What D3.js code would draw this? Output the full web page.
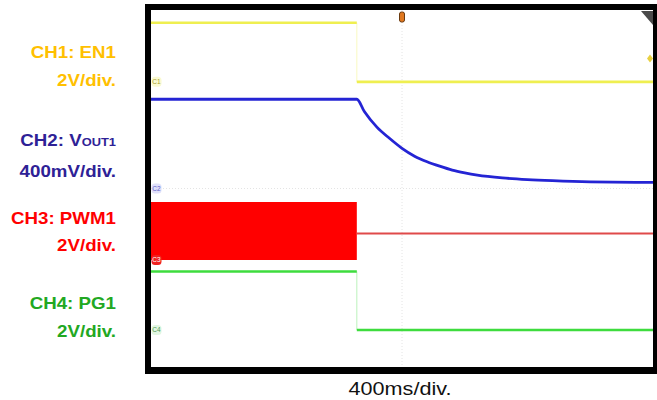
<!DOCTYPE html>
<html>
<head>
<meta charset="utf-8">
<script src="https://cdn.jsdelivr.net/npm/d3@7/dist/d3.min.js"></script>
<style>
  html, body { margin: 0; padding: 0; background: #fff; }
  svg { display: block; }
</style>
</head>
<body>
<svg id="scope" width="657" height="400"></svg>
<script>
// ---- Channel data (time in ms relative to trigger, voltages in V) ----
const en1Time  = [-2000, -360, -360, 2000];
const en1Volts = [2.65, 2.65, 0, 0];

const vout1Time  = [-2000, -360, -300, -200, -100, 0, 100, 200, 300, 400, 500, 600, 800, 1000, 1200, 1500, 2000];
const vout1Volts = [0.80, 0.80, 0.69, 0.55, 0.45, 0.36, 0.29, 0.24, 0.20, 0.165, 0.14, 0.12, 0.095, 0.08, 0.07, 0.06, 0.055];

// PWM1 switches while enabled (drawn as its low/high envelope), then idles mid-rail
const pwmBurstTime = [-2000, -360];
const pwmBurstLow  = [0, 0];
const pwmBurstHigh = [2.6, 2.6];
const pwmIdleTime  = [-360, 2000];
const pwmIdleVolts = [1.18, 1.18];

const pg1Time  = [-2000, -360, -360, 2000];
const pg1Volts = [2.62, 2.62, 0, 0];

// ---- Labels ----
const channelNames = ["CH1: EN1", "CH2: V", "CH3: PWM1", "CH4: PG1"];
const channelSubs  = ["", "OUT1", "", ""];
const channelScales = ["2V/div.", "400mV/div.", "2V/div.", "2V/div."];
const voltsPerDiv = [2, 0.4, 2, 2];
const timebaseLabel = "400ms/div.";
const channelTags = ["C1", "C2", "C3", "C4"];

// ---- Layout ----
const svg = d3.select("#scope");
const plot = { left: 151, top: 10, right: 653, bottom: 367 };
const x = d3.scaleLinear().domain([-2000, 2000]).range([plot.left, plot.right]);
const yDiv = d3.scaleLinear().domain([-4, 4]).range([plot.bottom, plot.top]);

// ground offsets of each channel, in divisions from screen centre
const offsets = [2.39, 0.0, -1.6, -3.17];
const traceColors = ["#EFEF50", "#2424D4", "#FF0000", "#3EDC3E"];
const labelColors = ["#FFC000", "#2E2196", "#FF0000", "#22A822"];
const tagFill = ["#FAFAD2", "#E0E0FA", "#F02020", "#E2F6E2"];
const tagText = ["#A8A030", "#6060C8", "#FFFFFF", "#509850"];

const yCh = (ch, v) => yDiv(offsets[ch] + v / voltsPerDiv[ch]);

// frame
svg.append("rect").attr("x", 145).attr("y", 4).attr("width", 512).attr("height", 370).attr("fill", "#000");
svg.append("rect").attr("x", plot.left).attr("y", plot.top)
  .attr("width", plot.right - plot.left).attr("height", plot.bottom - plot.top).attr("fill", "#fff");

// centre graticule
const grid = svg.append("g").attr("stroke", "#e4e4e4").attr("stroke-width", 1).attr("stroke-dasharray", "1,2");
grid.append("line").attr("x1", x(0)).attr("x2", x(0)).attr("y1", plot.top).attr("y2", plot.bottom);
grid.append("line").attr("x1", plot.left).attr("x2", plot.right).attr("y1", yDiv(0)).attr("y2", yDiv(0));

const line = ch => d3.line().x(d => x(d[0])).y(d => yCh(ch, d[1]));
const zip = (a, b) => a.map((t, i) => [t, b[i]]);

// step edges drawn faintly, like a fast edge on a slow timebase
function stepTrace(ch, times, volts, width) {
  const pts = zip(times, volts);
  const edgeIdx = times.findIndex((t, i) => i > 0 && t === times[i - 1]);
  svg.append("line")
    .attr("x1", x(times[edgeIdx])).attr("x2", x(times[edgeIdx]))
    .attr("y1", yCh(ch, volts[edgeIdx - 1])).attr("y2", yCh(ch, volts[edgeIdx]))
    .attr("stroke", traceColors[ch]).attr("stroke-opacity", 0.35).attr("stroke-width", 1);
  svg.append("path").datum(pts.slice(0, edgeIdx)).attr("d", line(ch))
    .attr("fill", "none").attr("stroke", traceColors[ch]).attr("stroke-width", width);
  svg.append("path").datum(pts.slice(edgeIdx)).attr("d", line(ch))
    .attr("fill", "none").attr("stroke", traceColors[ch]).attr("stroke-width", width);
}

// CH1 EN1
stepTrace(0, en1Time, en1Volts, 2.6);

// CH2 VOUT1
svg.append("path").datum(zip(vout1Time, vout1Volts))
  .attr("d", line(1).curve(d3.curveMonotoneX))
  .attr("fill", "none").attr("stroke", traceColors[1]).attr("stroke-width", 2.8);

// CH3 PWM1
svg.append("path")
  .datum(pwmBurstTime.map((t, i) => [t, pwmBurstLow[i], pwmBurstHigh[i]]))
  .attr("d", d3.area().x(d => x(d[0])).y0(d => yCh(2, d[1])).y1(d => yCh(2, d[2])))
  .attr("fill", "#FF0000");
svg.append("path").datum(zip(pwmIdleTime, pwmIdleVolts)).attr("d", line(2))
  .attr("fill", "none").attr("stroke", "#E04A4A").attr("stroke-width", 2);

// CH4 PG1
stepTrace(3, pg1Time, pg1Volts, 2.6);

// channel ground tags
channelTags.forEach((tag, ch) => {
  const g = svg.append("g").attr("transform", `translate(${plot.left + 5},${yCh(ch, 0)})`);
  g.append("rect").attr("x", -4.5).attr("y", -5).attr("width", 10).attr("height", 10).attr("rx", 3.5)
    .attr("fill", tagFill[ch]);
  g.append("text").attr("x", 0.5).attr("y", 2.3).attr("text-anchor", "middle")
    .attr("font-family", "Liberation Sans, Arial, sans-serif").attr("font-size", 6.5)
    .attr("fill", tagText[ch]).text(tag);
});

// trigger position marker
svg.append("rect").attr("x", x(0) - 2.5).attr("y", 12).attr("width", 5).attr("height", 10).attr("rx", 2)
  .attr("fill", "#E07820").attr("stroke", "#6a3a10").attr("stroke-width", 1);
// corner indicator
svg.append("path").attr("d", `M${plot.right - 12},${plot.top + 1} L${plot.right},${plot.top + 1} L${plot.right},${plot.top + 15} Z`)
  .attr("fill", "#4a4a4a");
// trigger level marker on CH1
svg.append("path")
  .attr("d", `M${plot.right - 3},${yCh(0, 1.05) - 4} L${plot.right},${yCh(0, 1.05)} L${plot.right - 3},${yCh(0, 1.05) + 4} L${plot.right - 6},${yCh(0, 1.05)} Z`)
  .attr("fill", "#E8D040");

// channel labels
const labelBaselines = [[58, 86], [146, 177], [224, 251], [309, 337]];
channelNames.forEach((name, ch) => {
  const t = svg.append("text")
    .attr("transform", `translate(116,${labelBaselines[ch][0]}) scale(1.17,1)`)
    .attr("text-anchor", "end").attr("font-family", "Liberation Sans, Arial, sans-serif")
    .attr("font-weight", "bold").attr("font-size", 16).attr("fill", labelColors[ch]);
  t.append("tspan").text(name);
  if (channelSubs[ch]) t.append("tspan").attr("font-size", 11).text(channelSubs[ch]);
  svg.append("text")
    .attr("transform", `translate(116,${labelBaselines[ch][1]}) scale(1.17,1)`)
    .attr("text-anchor", "end").attr("font-family", "Liberation Sans, Arial, sans-serif")
    .attr("font-weight", "bold").attr("font-size", 16).attr("fill", labelColors[ch])
    .text(channelScales[ch]);
});

// timebase label
svg.append("text")
  .attr("transform", "translate(400,395) scale(1.2,1)")
  .attr("text-anchor", "middle").attr("font-family", "Liberation Sans, Arial, sans-serif")
  .attr("font-size", 18).attr("fill", "#111").text(timebaseLabel);
</script>
</body>
</html>
